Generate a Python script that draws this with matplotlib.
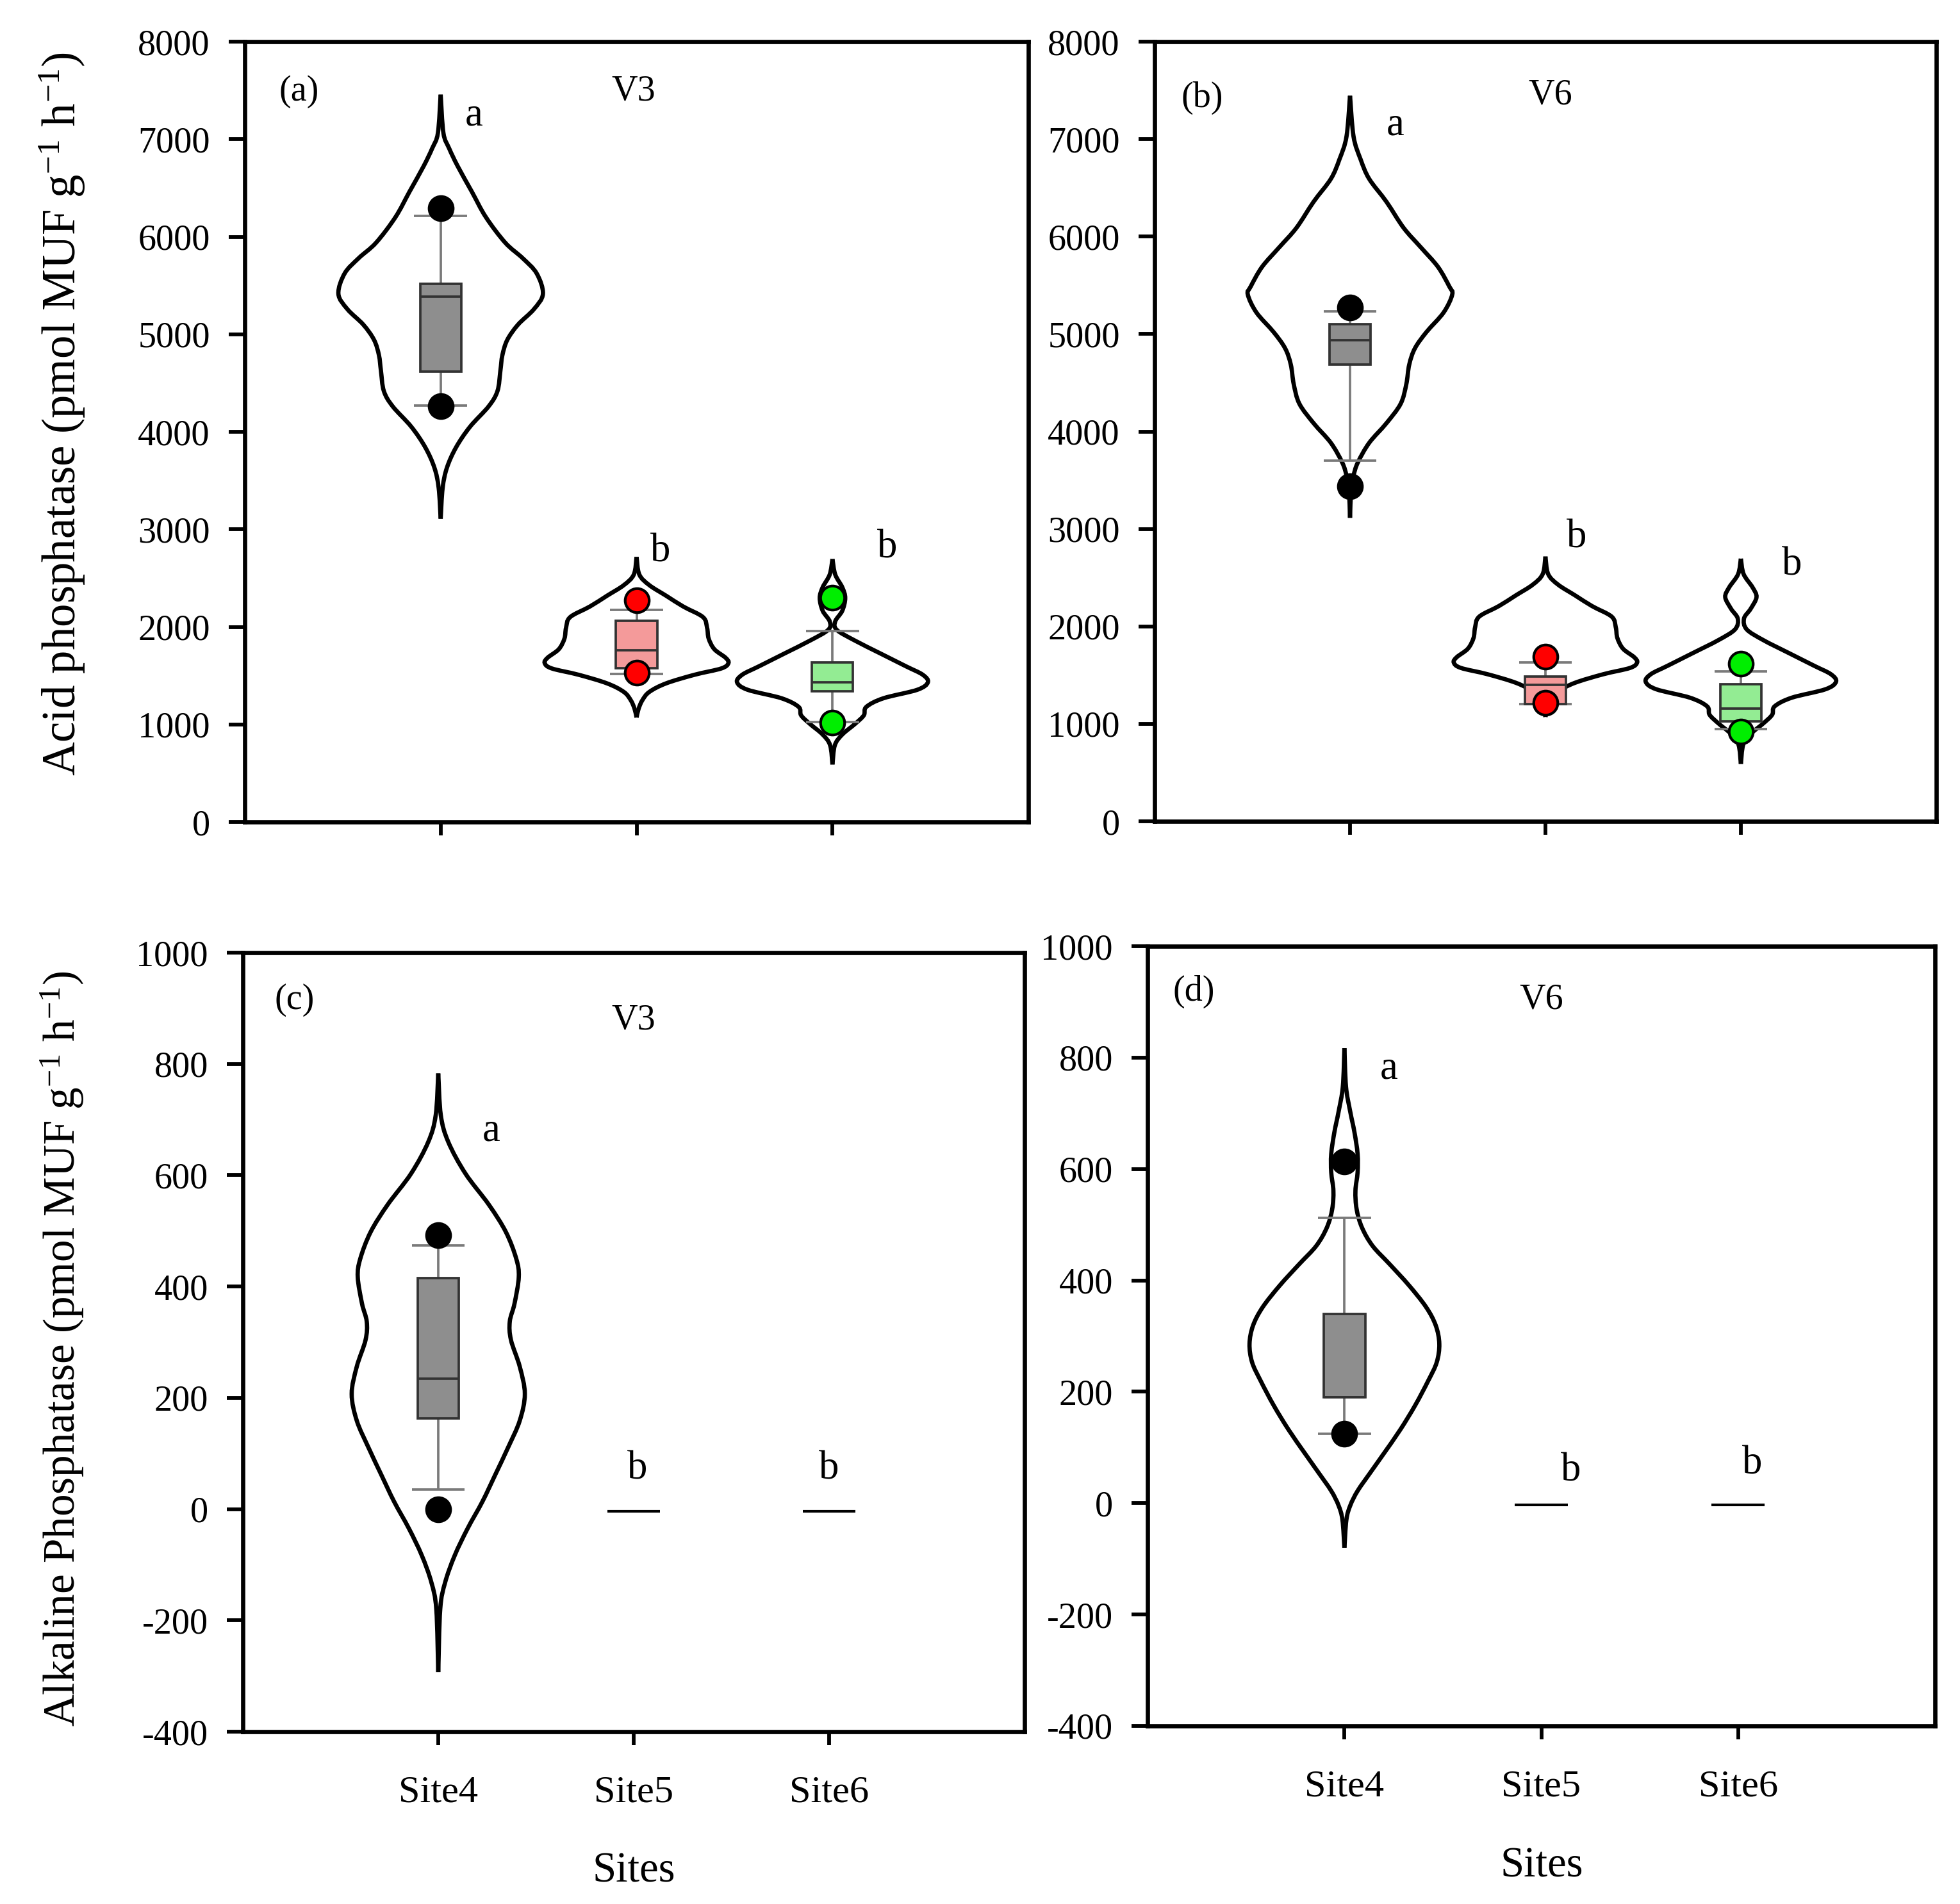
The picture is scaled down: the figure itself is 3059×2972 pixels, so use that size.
import numpy as np
import matplotlib
matplotlib.use('Agg')
import matplotlib.pyplot as plt
from matplotlib.path import Path
from matplotlib.patches import PathPatch, Rectangle

plt.rcParams['font.family'] = ['Liberation Serif', 'DejaVu Serif']
plt.rcParams['mathtext.fontset'] = 'custom'
plt.rcParams['mathtext.rm'] = 'Liberation Serif'
plt.rcParams['mathtext.it'] = 'Liberation Serif:italic'
plt.rcParams['axes.unicode_minus'] = False

sites = ['Site4', 'Site5', 'Site6']
positions = [1, 2, 3]
box_colors = ['#8e8e8e', '#f49a9a', '#93ec93']
dot_colors = ['#000000', '#ff0000', '#00ee00']

# ---------------- violin profiles (value, half-width) ----------------
a4_v = [3109, 3423, 3632, 3842, 4052, 4261, 4418, 4628, 4785, 4942, 5099, 5257, 5414, 5624, 5781, 5938, 6200, 6462, 6723, 6907, 7064, 7457]
a4_w = [0, 0.01, 0.032, 0.079, 0.15, 0.245, 0.29, 0.305, 0.315, 0.34, 0.395, 0.476, 0.522, 0.49, 0.418, 0.33, 0.231, 0.159, 0.087, 0.043, 0.014, 0]
a5_v = [1071, 1158, 1246, 1333, 1421, 1509, 1574, 1629, 1684, 1771, 1881, 1990, 2100, 2209, 2319, 2428, 2537, 2717]
a5_w = [0, 0.01, 0.029, 0.065, 0.151, 0.296, 0.433, 0.469, 0.454, 0.397, 0.368, 0.36, 0.339, 0.238, 0.151, 0.065, 0.014, 0]
a6_v = [589, 786, 896, 1005, 1093, 1180, 1268, 1355, 1432, 1509, 1596, 1727, 1859, 1969, 2056, 2165, 2296, 2406, 2537, 2695]
a6_w = [0, 0.012, 0.05, 0.115, 0.16, 0.173, 0.26, 0.433, 0.487, 0.461, 0.375, 0.245, 0.115, 0.022, 0.014, 0.05, 0.065, 0.05, 0.014, 0]

b4_v = [3114, 3415, 3548, 3682, 3883, 4084, 4284, 4485, 4686, 4853, 5020, 5221, 5405, 5488, 5689, 5890, 6090, 6358, 6592, 6793, 7027, 7445]
b4_w = [0, 0.006, 0.018, 0.04, 0.098, 0.186, 0.259, 0.288, 0.303, 0.332, 0.391, 0.479, 0.523, 0.508, 0.45, 0.362, 0.274, 0.186, 0.098, 0.054, 0.018, 0]
b5_v = [1071, 1158, 1246, 1333, 1421, 1509, 1574, 1629, 1684, 1771, 1881, 1990, 2100, 2209, 2319, 2428, 2537, 2717]
b5_w = [0, 0.01, 0.029, 0.065, 0.151, 0.296, 0.433, 0.469, 0.454, 0.397, 0.368, 0.36, 0.339, 0.238, 0.151, 0.065, 0.014, 0]
b6_v = [589, 786, 896, 1005, 1093, 1180, 1268, 1355, 1432, 1509, 1596, 1727, 1859, 1969, 2080, 2180, 2300, 2400, 2537, 2695]
b6_w = [0, 0.012, 0.05, 0.115, 0.16, 0.173, 0.26, 0.433, 0.487, 0.461, 0.375, 0.245, 0.115, 0.03, 0.016, 0.05, 0.08, 0.06, 0.014, 0]

c4_v = [-293, -180, -132, -83.5, -35, 13.5, 62, 110.5, 159, 207, 256, 304, 337, 369, 417, 450, 498, 547, 603, 660, 708, 783]
c4_w = [0, 0.01, 0.035, 0.084, 0.15, 0.226, 0.292, 0.357, 0.417, 0.443, 0.417, 0.372, 0.366, 0.39, 0.412, 0.399, 0.346, 0.259, 0.139, 0.051, 0.013, 0]

d4_v = [-80, -30, -4, 22, 55, 88, 132, 176, 220, 253, 286, 319, 352, 391, 429, 462, 495, 528, 561, 594, 627, 666, 704, 748, 817]
d4_w = [0, 0.01, 0.03, 0.067, 0.132, 0.198, 0.284, 0.36, 0.426, 0.469, 0.482, 0.464, 0.415, 0.328, 0.23, 0.143, 0.089, 0.062, 0.056, 0.067, 0.067, 0.051, 0.029, 0.008, 0]

# ---------------- box statistics ----------------
a_q1 = [4617, 1579, 1337]
a_med = [5386, 1760, 1432]
a_q3 = [5517, 2060, 1635]
a_wlo = [4272, 1519, 1023]
a_whi = [6213, 2176, 1955]
a_plo = [4263, 1530, 1016]
a_phi = [6294, 2271, 2296]

b_q1 = [4686, 1205, 1026]
b_med = [4936, 1397, 1154]
b_q3 = [5104, 1487, 1410]
b_wlo = [3699, 1205, 949]
b_whi = [5231, 1628, 1538]
b_plo = [3441, 1218, 923]
b_phi = [5271, 1692, 1615]

c_q1 = [163]
c_med = [234]
c_q3 = [415]
c_wlo = [35]
c_whi = [474]
c_plo = [0]
c_phi = [492]
c_zero = [-4, -4]   # Site5, Site6 (all values ~0)

d_q1 = [190]
d_med = [190]
d_q3 = [340]
d_wlo = [124]
d_whi = [512]
d_plo = [124]
d_phi = [614]
d_zero = [-3, -3]

# letters (significance) : x, y
a_let_x = [1.17, 2.12, 3.28]; a_let_y = [7243, 2769, 2808]; a_let = ['a', 'b', 'b']
b_let_x = [1.23, 2.16, 3.26]; b_let_y = [7141, 2910, 2628]; b_let = ['a', 'b', 'b']
c_let_x = [1.27, 2.02, 3.0]; c_let_y = [679, 72, 72]; c_let = ['a', 'b', 'b']
d_let_x = [1.225, 2.15, 3.07]; d_let_y = [780, 57, 70]; d_let = ['a', 'b', 'b']

W, H = 3059, 2972
DPI = 300
fig = plt.figure(figsize=(W / DPI, H / DPI), dpi=DPI)

def fr(l, t, r, b):
    return [l / W, 1 - b / H, (r - l) / W, (b - t) / H]

ax_a = fig.add_axes(fr(382, 65, 1605, 1283))
ax_b = fig.add_axes(fr(1802, 65, 3022, 1282))
ax_c = fig.add_axes(fr(379, 1487, 1599, 2703))
ax_d = fig.add_axes(fr(1791, 1477, 3020, 2694))


def smooth_side(xs, ys):
    pts = np.column_stack([xs, ys])
    n = len(pts)
    verts = [pts[0]]
    codes = [Path.MOVETO]
    for i in range(n - 1):
        p0 = pts[i - 1] if i > 0 else pts[i]
        p1 = pts[i]
        p2 = pts[i + 1]
        p3 = pts[i + 2] if i + 2 < n else pts[i + 1]
        c1 = p1 + (p2 - p0) / 6.0
        c2 = p2 - (p3 - p1) / 6.0
        verts += [c1, c2, p2]
        codes += [Path.CURVE4] * 3
    return Path(verts, codes)


def draw_violin(ax, pos, vals, widths):
    v = np.asarray(vals, float)
    w = np.asarray(widths, float)
    for sgn in (1, -1):
        p = smooth_side(pos + sgn * w, v)
        ax.add_patch(PathPatch(p, facecolor='none', edgecolor='black', lw=1.6, zorder=2))


def draw_box(ax, i, q1, med, q3, wlo, whi, plo, phi):
    pos = positions[i]
    bw = 0.21
    cw = 0.135
    wc = '#7a7a7a'
    ax.vlines(pos, q3, whi, color=wc, lw=0.9, zorder=3)
    ax.vlines(pos, wlo, q1, color=wc, lw=0.9, zorder=3)
    ax.hlines([wlo, whi], pos - cw, pos + cw, color=wc, lw=0.9, zorder=3)
    ax.add_patch(Rectangle((pos - bw / 2, q1), bw, q3 - q1, facecolor=box_colors[i],
                           edgecolor='#333333', lw=0.9, zorder=4))
    ax.hlines(med, pos - bw / 2, pos + bw / 2, color='#333333', lw=0.9, zorder=5)
    ax.plot([pos, pos], [plo, phi], ls='none', marker='o', ms=9, mfc=dot_colors[i],
            mec='black', mew=1.0, zorder=6)


def style(ax, ylim, yticks, xlabels):
    ax.set_xlim(0.0, 4.0)
    ax.set_ylim(*ylim)
    ax.set_yticks(yticks)
    ax.set_xticks(positions)
    for s in ax.spines.values():
        s.set_linewidth(1.6)
    ax.tick_params(axis='y', direction='out', length=6, width=1.4, pad=7, labelsize=13.5)
    ax.tick_params(axis='x', direction='out', length=5, width=1.4, pad=11.5, labelsize=14.5)
    if xlabels:
        ax.set_xticklabels(sites)
    else:
        ax.set_xticklabels([])


# panel a
draw_violin(ax_a, 1, a4_v, a4_w)
draw_violin(ax_a, 2, a5_v, a5_w)
draw_violin(ax_a, 3, a6_v, a6_w)
for i in range(3):
    draw_box(ax_a, i, a_q1[i], a_med[i], a_q3[i], a_wlo[i], a_whi[i], a_plo[i], a_phi[i])
style(ax_a, (0, 8000), range(0, 8001, 1000), False)

# panel b
draw_violin(ax_b, 1, b4_v, b4_w)
draw_violin(ax_b, 2, b5_v, b5_w)
draw_violin(ax_b, 3, b6_v, b6_w)
for i in range(3):
    draw_box(ax_b, i, b_q1[i], b_med[i], b_q3[i], b_wlo[i], b_whi[i], b_plo[i], b_phi[i])
style(ax_b, (0, 8000), range(0, 8001, 1000), False)

# panel c
draw_violin(ax_c, 1, c4_v, c4_w)
draw_box(ax_c, 0, c_q1[0], c_med[0], c_q3[0], c_wlo[0], c_whi[0], c_plo[0], c_phi[0])
for k, z in enumerate(c_zero):
    ax_c.hlines(z, positions[k + 1] - 0.135, positions[k + 1] + 0.135, color='black', lw=1.0)
style(ax_c, (-400, 1000), range(-400, 1001, 200), True)

# panel d
draw_violin(ax_d, 1, d4_v, d4_w)
draw_box(ax_d, 0, d_q1[0], d_med[0], d_q3[0], d_wlo[0], d_whi[0], d_plo[0], d_phi[0])
for k, z in enumerate(d_zero):
    ax_d.hlines(z, positions[k + 1] - 0.135, positions[k + 1] + 0.135, color='black', lw=1.0)
style(ax_d, (-400, 1000), range(-400, 1001, 200), True)

for ax, lx, ly, lt in [(ax_a, a_let_x, a_let_y, a_let), (ax_b, b_let_x, b_let_y, b_let),
                       (ax_c, c_let_x, c_let_y, c_let), (ax_d, d_let_x, d_let_y, d_let)]:
    for x, y, t in zip(lx, ly, lt):
        ax.text(x, y, t, fontsize=15, ha='center', va='center')

panel_txt = [(ax_a, '(a)', 0.069, 0.936, 'V3', 0.496, 0.936),
             (ax_b, '(b)', 0.061, 0.928, 'V6', 0.506, 0.931),
             (ax_c, '(c)', 0.066, 0.939, 'V3', 0.500, 0.913),
             (ax_d, '(d)', 0.059, 0.942, 'V6', 0.500, 0.931)]
for ax, t1, x1, y1, t2, x2, y2 in panel_txt:
    ax.text(x1, y1, t1, transform=ax.transAxes, fontsize=13.5, ha='center', va='center')
    ax.text(x2, y2, t2, transform=ax.transAxes, fontsize=13.5, ha='center', va='center')

fig.text(97 / W, 1 - 646 / H, r'Acid phosphatase (pmol MUF g$^{-1}$ h$^{-1}$)',
         rotation=90, fontsize=17.5, ha='center', va='center')
fig.text(97 / W, 1 - 2105 / H, r'Alkaline Phosphatase (pmol MUF g$^{-1}$ h$^{-1}$)',
         rotation=90, fontsize=16.6, ha='center', va='center')
fig.text(989 / W, 1 - 2921 / H, 'Sites', fontsize=16, ha='center', va='center')
fig.text(2406 / W, 1 - 2913 / H, 'Sites', fontsize=16, ha='center', va='center')

fig.savefig('out.png', dpi=DPI)
